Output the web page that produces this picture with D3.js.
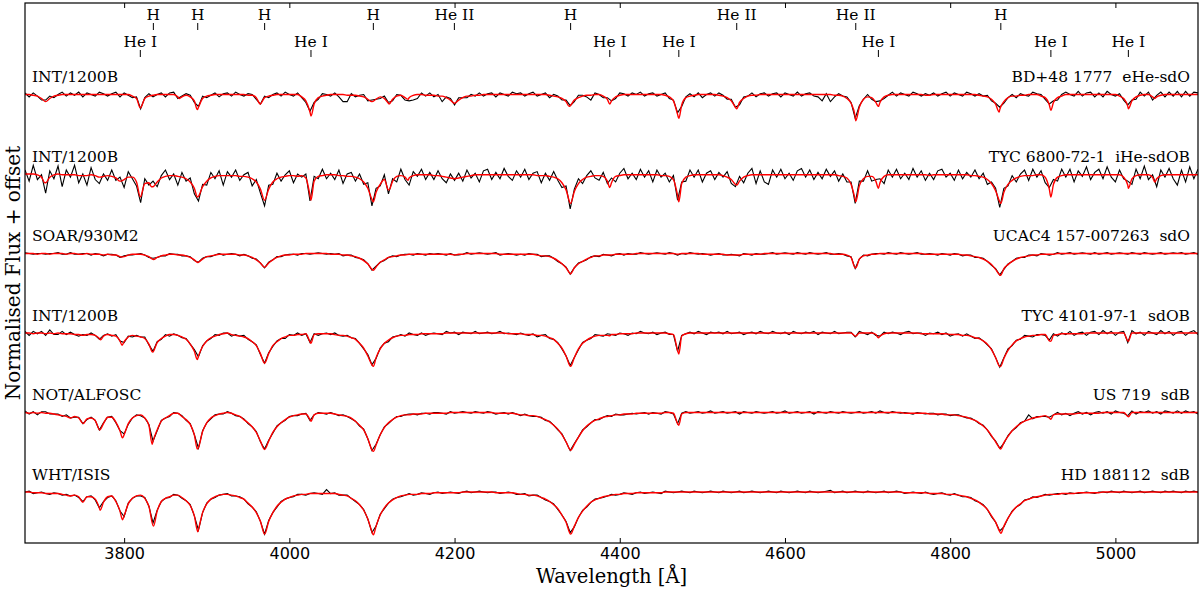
<!DOCTYPE html>
<html>
<head>
<meta charset="utf-8">
<title>Normalised spectra</title>
<script src="https://cdn.jsdelivr.net/npm/d3@7"></script>
<style>
  body { margin: 0; background: #fff; }
  .serif { font-family: "DejaVu Serif", serif; fill: #000; }
  .axis text { font-family: "DejaVu Sans", sans-serif; font-size: 16px; fill: #000; }
  .axis line { stroke: #000; stroke-width: 1; }
</style>
</head>
<body>
<div id="chart-area"></div>
<script>
// wavelength grid shared by every spectrum (Angstrom), 20 values = 100 A per row
var waveStart = 3680, waveStep = 5;
var waveRange = [3680, 5100];
var xTicks = [3800, 4000, 4200, 4400, 4600, 4800, 5000];

var instruments = ['INT/1200B', 'INT/1200B', 'SOAR/930M2', 'INT/1200B', 'NOT/ALFOSC', 'WHT/ISIS'];
var starNames = ['BD+48 1777  eHe-sdO', 'TYC 6800-72-1  iHe-sdOB', 'UCAC4 157-007263  sdO',
                 'TYC 4101-97-1  sdOB', 'US 719  sdB', 'HD 188112  sdB'];
var offsets = [5, 4, 3, 2, 1, 0];

// line identifications [label, wavelength]
var idTop = [['H', 3835.4], ['H', 3889.1], ['H', 3970.1], ['H', 4101.7], ['He II', 4199.8],
             ['H', 4340.5], ['He II', 4541.6], ['He II', 4685.7], ['H', 4861.3]];
var idBottom = [['He I', 3819.6], ['He I', 4026.2], ['He I', 4387.9], ['He I', 4471.5],
                ['He I', 4713.1], ['He I', 4921.9], ['He I', 5015.7]];

// model flux on the grid (percent of continuum), residuals of the data, exact line cores
var fluxBD48 = [
100,100,99,98,95,91,95,98,99,100,100,100,100,100,100,100,100,100,100,100,
100,100,100,100,100,100,98,95,84,95,98,99,100,100,100,100,100,97,97,99,
97,92,84,95,98,99,100,100,100,100,100,100,100,100,99,99,96,88,96,98,
99,100,100,100,100,100,100,97,92,78,88,96,98,99,100,100,100,100,99,99,
99,98,97,94,91,94,97,95,89,94,98,99,96,96,99,100,100,99,99,99,
98,98,96,93,89,93,96,98,98,99,99,100,100,100,100,100,100,100,100,100,
100,100,100,100,100,100,100,99,98,97,95,91,86,93,96,98,99,99,100,100,
98,94,92,97,99,100,100,100,100,100,100,100,100,100,100,99,97,92,75,87,
96,98,99,100,100,100,100,100,99,98,96,92,84,90,95,98,99,99,100,100,
100,100,100,100,100,100,100,100,100,100,100,100,100,100,100,100,99,99,98,95,
89,72,84,94,97,96,90,90,97,99,100,100,100,100,100,100,100,100,99,99,
100,100,100,100,100,100,100,100,100,100,100,99,98,97,94,88,81,91,96,98,
98,99,99,100,100,100,98,96,87,90,96,98,100,100,100,100,100,100,100,100,
100,100,100,100,100,98,95,85,92,97,99,100,100,97,97,99,100,100,100,100,
100,100,100,100,100];
var residBD48 = [
2,-3,3,0,-2,2,3,-2,1,3,-2,2,-1,3,-3,2,0,-2,3,1,
-2,1,3,-3,2,-1,-2,2,-2,1,3,-2,0,2,-3,2,3,-2,1,2,
2,-2,1,3,-2,0,2,-3,1,2,-2,3,0,-2,2,1,-2,0,2,-2,
1,2,-2,3,0,-2,2,-1,-2,1,2,-2,3,1,-2,2,-3,-9,-8,2,
-2,1,3,-2,2,0,-2,3,1,-2,2,0,-3,-4,-6,-5,2,-1,3,-2,
2,-7,1,2,-2,3,0,-2,2,-1,3,-2,1,2,-3,2,0,-2,3,1,
2,-2,1,3,-2,0,2,-3,2,1,-2,2,0,-2,3,1,-2,-6,2,0,
-2,2,0,-2,3,1,-2,2,0,3,-2,1,2,-2,0,3,-2,1,2,-2,
1,3,-2,2,-4,0,2,-2,3,1,-2,2,0,-3,2,0,3,-2,1,2,
-2,1,2,-3,2,0,-2,3,-2,1,2,-2,-3,-8,1,-9,-2,2,0,2,
1,-2,2,0,3,-2,1,2,-2,0,3,-2,2,0,-2,3,1,-2,2,0,
2,-2,1,3,-2,2,0,-2,3,1,-2,2,0,2,-2,1,3,-2,0,2,
-2,2,0,-2,3,1,2,-2,1,2,-3,2,3,0,-2,4,-2,2,3,-3,
2,-3,4,0,-2,3,-2,2,1,-3,4,-2,3,-4,2,4,-3,3,-2,4,
-3,4,-2,3,2];
var coresBD48 = [[3705, 91], [3819.6, 83], [3867, 95], [3888.6, 81], [3964.7, 88], [4026.2, 73],
  [4100, 91], [4120.8, 88], [4143.8, 94], [4199.8, 89], [4338.7, 85], [4387.9, 88], [4471.5, 70],
  [4541.6, 82], [4685.7, 67], [4713.1, 85], [4859.3, 78], [4921.9, 80], [5015.7, 82], [5047.7, 95]];

var fluxTYC6800 = [
100,100,100,99,96,89,96,99,100,99,99,99,99,98,98,98,99,98,96,97,
98,97,95,91,93,96,96,90,72,88,89,84,90,95,97,98,98,97,96,94,
90,82,72,84,91,95,97,98,98,98,98,98,97,97,96,94,90,81,67,81,
90,94,96,97,98,98,97,98,95,73,91,97,98,99,99,99,98,98,97,97,
96,94,90,82,68,77,87,93,80,91,97,98,96,95,98,99,99,99,99,98,
98,97,96,95,94,95,96,97,98,99,99,99,99,99,99,99,99,99,99,99,
99,99,99,99,98,98,98,97,96,94,89,80,64,78,88,93,96,97,98,98,
97,91,89,97,98,99,99,99,99,99,99,99,99,99,98,98,97,93,73,88,
96,98,99,99,99,99,99,99,99,98,96,93,87,91,96,98,99,99,99,99,
99,99,99,99,99,99,99,99,99,99,99,99,99,99,99,99,99,98,97,95,
87,68,85,94,97,97,91,89,97,99,99,99,99,99,99,99,99,99,99,98,
99,99,99,99,99,99,99,99,99,98,98,97,96,93,88,79,65,77,87,92,
95,97,98,98,98,99,99,96,81,87,96,98,99,99,99,99,99,99,99,99,
99,99,99,99,99,99,96,86,94,98,99,99,99,96,94,98,99,99,99,99,
99,99,99,99,99];
var residTYC6800 = [
5,-9,11,-6,3,-13,8,-5,10,-15,6,-3,12,-9,2,-12,9,-5,-8,3,
-6,8,-3,5,-10,7,-2,-5,-8,6,-3,7,-6,3,8,-5,2,-11,6,-3,
5,-7,-6,3,-5,7,-3,6,-12,5,-2,7,-5,2,6,-9,3,-5,-7,5,
-3,7,-5,2,6,-9,3,-2,5,-7,6,-3,8,-5,2,-6,7,-10,3,5,
-5,6,-3,7,-8,5,-2,6,-5,3,-7,8,-3,-9,5,-2,7,-6,3,-5,
6,-3,-7,5,-2,6,-5,8,-3,2,-9,5,7,-6,3,-5,8,-2,-7,5,
-3,7,-6,2,5,-9,3,-5,7,-2,-6,5,-8,3,6,-5,2,7,-3,-6,
5,-3,6,-7,3,8,-5,2,-6,7,-3,5,-9,6,-2,3,-7,5,-6,2,
-5,7,-3,6,-9,2,5,-6,3,-2,7,-5,-3,6,-7,3,8,-11,5,-9,
-12,6,-3,7,-5,2,-7,5,8,-3,6,-6,3,-5,7,-2,5,-7,3,-5,
3,-5,6,-3,7,-6,2,5,-9,6,-3,7,-5,2,-6,8,-3,5,-7,3,
-6,5,7,-3,2,-7,6,-5,3,-2,7,-3,5,-6,2,3,-7,5,-2,6,
-5,3,7,-6,8,-3,5,-7,2,6,-5,8,-3,7,-9,5,-2,10,-6,3,
7,-5,10,-3,-9,6,-2,5,-7,8,-5,11,-6,3,-10,7,-3,8,-5,-13,
6,-9,10,-5,7];
var coresTYC6800 = [[3704, 89], [3771, 96], [3796, 91], [3819.6, 71], [3833, 84], [3888.7, 71],
  [3970, 67], [4026.2, 67], [4101.7, 65], [4120.8, 80], [4143.8, 92], [4199.8, 94], [4340.5, 63],
  [4387.9, 83], [4471.5, 65], [4541.6, 86], [4685.7, 65], [4713.1, 82], [4861.3, 63], [4921.9, 71],
  [5015.7, 82], [5047.7, 90]];

var fluxUCAC4 = [
100,100,100,99,100,100,99,100,100,100,99,100,100,99,99,100,99,99,99,98,
99,98,98,96,96,98,99,99,99,98,96,93,95,97,98,99,99,98,98,97,
95,92,89,93,96,97,98,99,99,99,99,99,98,98,97,95,92,88,83,88,
92,95,97,98,98,99,99,99,100,100,100,100,100,100,99,99,99,98,98,97,
96,94,91,87,80,83,89,92,95,96,97,98,98,99,99,99,99,99,99,99,
99,99,99,99,98,99,99,100,100,100,100,100,100,100,100,99,99,99,99,99,
99,99,99,99,98,97,97,96,94,91,87,82,75,82,87,90,93,95,97,97,
98,98,98,99,99,99,99,99,100,100,100,100,100,100,100,100,100,100,99,100,
100,100,100,100,99,99,99,99,99,99,98,98,98,98,99,99,99,99,99,100,
100,100,100,100,100,100,100,100,100,100,100,100,100,100,100,100,99,99,99,98,
95,82,93,97,98,99,99,100,100,100,100,100,100,100,100,100,100,100,99,99,
99,99,99,99,99,99,99,98,98,97,96,95,93,90,86,80,73,81,86,90,
93,95,96,97,98,98,99,99,99,99,100,100,100,100,100,100,100,100,100,100,
100,100,100,100,100,100,100,100,100,100,100,100,100,100,100,100,100,100,100,100,
100,100,100,100,100];
var residUCAC4 = [
1,0,-1,1,0,-1,1,0,1,-1,0,1,-1,0,1,0,-1,1,0,-1,
0,1,0,-1,1,0,-1,0,1,0,-1,1,0,0,-1,1,0,1,-1,0,
1,-1,0,1,0,-1,0,1,-1,0,1,0,-1,1,0,-1,1,0,-1,1,
0,1,-1,0,1,0,-1,1,0,-1,0,1,0,-1,1,0,1,-1,0,1,
-1,0,1,0,-1,1,0,-1,0,1,-1,0,1,0,-1,1,0,-1,1,0,
1,0,-1,1,0,-1,0,1,-1,0,1,0,-1,0,1,-1,0,1,0,-1,
0,-1,1,0,1,-1,0,1,0,-1,0,1,-1,0,1,0,-1,1,0,-1,
1,0,-1,0,1,-1,1,0,-1,1,0,-1,0,1,0,-1,1,0,-1,0,
-1,1,0,-1,1,0,-1,0,1,-1,0,1,0,-1,1,0,-1,1,0,-1,
0,1,-1,0,1,0,-1,1,0,-1,1,0,-1,0,1,-1,0,1,0,-1,
1,-1,0,1,-1,0,1,0,-1,1,0,-1,1,0,-1,0,1,-1,0,1,
0,-1,1,0,-1,1,0,-1,0,1,-1,0,1,0,-1,1,0,-1,1,0,
1,0,-1,1,0,-1,1,0,-1,0,1,-1,0,1,-1,0,1,0,-1,1,
-1,0,1,-1,0,1,0,-1,1,0,-1,1,0,-1,0,1,-1,0,1,0,
1,-1,0,1,-1];
var coresUCAC4 = [[3797, 95.5], [3835.5, 92.5], [3889, 88.5], [3970, 82.5], [4101.5, 79],
  [4340.5, 74.5], [4685.7, 82], [4861, 72.5]];

var fluxTYC4101 = [
100,100,99,100,100,99,100,99,100,99,99,99,98,98,97,98,98,97,93,96,
98,97,96,90,89,95,97,96,95,93,86,77,88,93,96,98,98,97,95,92,
86,77,71,83,90,94,96,98,99,100,98,97,96,95,93,89,84,74,62,74,
84,89,93,95,97,97,98,98,99,89,98,99,99,99,99,98,97,97,96,94,
92,87,81,71,60,69,80,87,91,94,96,97,97,98,98,98,99,99,99,99,
99,99,100,100,100,100,100,100,100,100,100,100,100,100,100,100,100,99,99,99,
99,98,98,98,97,97,96,94,92,87,81,71,58,69,80,87,91,94,96,97,
97,97,98,98,99,99,99,99,100,100,100,100,100,100,100,100,99,98,78,96,
99,100,100,100,100,100,100,100,100,100,100,100,100,100,100,100,100,100,100,100,
100,100,100,100,100,100,100,100,100,100,100,100,100,100,100,100,100,100,100,100,
100,96,100,100,100,100,98,96,99,100,100,100,100,100,100,100,100,99,99,99,
99,99,99,99,98,98,98,97,97,96,94,93,90,86,79,69,58,68,78,85,
90,93,95,96,97,97,98,98,90,97,98,99,99,99,99,99,99,100,100,100,
100,100,100,100,100,100,100,90,100,100,100,100,100,100,100,100,100,100,100,100,
100,100,100,100,100];
var residTYC4101 = [
2,-3,3,-1,2,-2,4,-1,-2,3,-1,2,0,-2,1,-1,2,0,-1,1,
1,-1,2,0,-1,1,-2,1,0,2,-1,0,1,-1,2,-2,1,0,-1,1,
0,2,-1,1,0,-1,2,-1,1,0,-2,1,0,2,-1,0,1,-1,0,1,
-1,1,0,-2,1,0,2,-1,0,-1,1,-2,0,1,-1,2,0,-1,1,0,
1,0,-1,2,0,-1,1,0,-2,1,0,1,-1,2,0,-1,1,-2,0,1,
0,-1,2,0,1,-2,1,0,-1,2,-1,0,1,-1,0,2,-1,1,0,-1,
1,0,-1,1,-2,0,2,-1,0,1,-1,0,1,0,-1,1,0,-1,2,0,
-1,2,0,-1,1,0,-2,1,-1,2,0,-1,1,-2,0,1,-1,0,-1,1,
0,1,-1,2,0,-2,1,0,1,-1,2,-1,0,1,-2,0,1,-1,2,0,
-1,2,0,-1,1,-2,2,0,-1,1,0,2,-2,1,0,-1,2,-1,0,1,
1,-1,2,0,-2,1,-1,0,2,-1,1,0,-2,1,2,-1,0,1,-2,1,
0,2,-1,1,-2,0,1,-1,2,0,-1,1,0,-1,1,0,-1,1,2,-1,
1,-1,2,0,-2,1,0,-1,1,2,-2,1,-1,3,-2,1,2,-3,1,2,
-2,3,-1,2,-3,1,2,-2,3,-1,1,-3,2,0,-2,3,-1,2,-3,1,
2,-3,1,3,-2];
var coresTYC4101 = [[3771.5, 91.5], [3797.5, 84.5], [3834.5, 76], [3888.6, 66.5], [3970, 62],
  [4026.2, 87], [4101.7, 58], [4340.5, 58], [4387.9, 96.5], [4471.5, 73.5], [4685.7, 96],
  [4713.1, 94], [4861, 58], [4921.9, 89.5], [5015.7, 89.5]];

var fluxUS719 = [
100,99,100,99,100,99,99,98,97,96,95,93,95,93,86,92,93,90,79,86,
94,94,88,77,72,86,93,96,97,93,84,64,78,89,93,96,99,99,95,91,
85,72,56,76,87,93,96,98,99,100,99,97,95,91,87,82,75,64,54,64,
75,82,87,91,94,96,97,98,98,91,97,99,99,99,99,98,97,96,95,93,
89,84,78,67,53,59,72,81,87,91,94,96,97,97,98,98,98,99,99,99,
99,99,99,100,100,100,100,100,100,100,100,100,100,100,99,99,99,99,99,98,
97,97,96,96,95,93,91,88,84,79,72,63,53,60,69,77,83,87,90,92,
94,95,96,97,97,98,98,98,99,99,99,99,99,99,99,100,100,99,86,98,
100,100,100,100,100,100,100,100,100,100,100,100,100,100,100,100,100,100,100,100,
100,100,100,100,100,100,100,100,100,100,100,100,100,100,100,100,100,100,100,100,
100,100,100,100,100,100,100,100,100,100,100,100,100,99,99,99,99,99,99,98,
98,98,98,97,97,97,96,95,94,92,90,87,83,78,71,63,55,62,70,77,
82,86,89,91,93,94,95,96,93,97,98,98,98,98,98,99,99,99,99,99,
99,100,100,100,100,100,100,95,100,100,100,100,100,100,100,100,100,100,100,100,
100,100,100,100,100];
var residUS719 = [
2,-1,1,-2,1,2,-1,0,1,-1,2,0,-1,1,0,-1,1,0,-1,1,
0,1,-1,0,1,-1,0,1,-1,0,1,0,-1,1,0,-1,1,0,1,-1,
1,0,-1,1,0,-1,1,0,-1,1,0,-1,0,1,-1,0,1,-1,0,1,
-1,1,0,-1,1,0,-1,0,1,-1,0,1,0,-1,1,0,-1,1,0,-1,
0,-1,1,0,-1,1,0,1,-1,0,1,-1,0,1,0,-1,1,0,-1,1,
1,0,-1,1,-1,0,1,0,-1,1,0,-1,1,0,-1,0,1,-1,1,0,
-1,1,0,-1,0,1,-1,1,0,-1,1,0,-1,1,0,1,-1,0,1,-1,
0,1,-1,1,0,-1,0,1,-1,0,1,-1,1,0,-1,1,0,-1,0,1,
1,-1,0,1,-1,0,2,-1,0,1,-1,0,1,-2,1,0,-1,1,0,-1,
0,1,-1,0,2,-1,0,1,-1,0,1,-2,1,0,-1,1,0,-1,1,0,
-1,0,1,-1,0,1,-1,2,0,-1,1,0,-1,1,0,-1,1,0,-1,1,
1,-1,0,1,-1,0,1,0,-1,1,0,-1,1,0,-1,1,0,-1,1,0,
-1,1,0,6,-1,1,0,-1,1,0,2,-1,1,-2,1,2,-1,1,-2,1,
2,-1,1,-2,2,0,-1,1,2,-2,1,0,2,-1,1,-2,2,1,-1,2,
-1,2,0,1,-2];
var coresUS719 = [[3750.5, 86], [3770.5, 78], [3798, 68], [3834, 60], [3888.6, 54], [3970, 53.5],
  [4026.2, 89], [4101.7, 51], [4340.5, 52.5], [4471.5, 84], [4861, 54], [4921.9, 91.5], [5015.7, 94.5]];

var fluxHD188112 = [
100,100,99,99,99,98,98,98,98,97,96,95,96,94,87,94,94,91,80,87,
94,95,88,76,70,85,92,95,96,92,82,62,76,88,92,94,96,96,93,89,
83,70,53,74,85,91,94,96,97,97,96,95,93,91,86,81,74,63,48,63,
74,82,87,91,93,95,96,97,97,98,98,98,98,98,98,98,97,96,95,92,
89,84,77,66,50,57,71,80,86,90,93,95,96,97,97,97,98,98,98,99,
99,99,99,99,99,99,100,100,100,100,100,100,100,100,99,99,99,99,99,98,
97,97,96,96,95,93,91,88,84,79,71,62,49,57,68,76,82,87,90,92,
94,95,96,97,97,98,98,98,99,99,99,99,99,99,99,100,100,100,100,100,
100,100,100,100,100,100,100,100,100,100,100,100,100,100,100,100,100,100,100,100,
100,100,100,100,100,100,100,100,100,100,100,100,100,100,100,100,100,100,100,100,
100,100,100,100,100,100,100,100,100,100,100,100,100,99,99,99,99,99,99,98,
98,98,98,97,97,97,96,95,94,92,90,87,83,78,70,62,50,57,67,75,
81,85,89,91,93,94,95,96,97,97,97,98,98,98,98,99,99,99,99,99,
99,100,100,100,100,100,100,100,100,100,100,100,100,100,100,100,100,100,100,100,
100,100,100,100,100];
var residHD188112 = [
0,1,-1,0,1,0,-1,1,0,-1,1,0,0,-1,1,0,1,-1,0,1,
-1,0,1,0,-1,1,0,0,-1,1,0,-1,1,0,0,-1,1,0,-1,0,
1,0,-1,0,1,0,-1,0,0,1,-1,0,1,0,-1,0,1,0,-1,1,
0,-1,1,0,0,-1,1,0,-1,0,1,0,-1,5,0,1,-1,0,1,0,
-1,0,1,0,-1,0,1,-1,0,1,0,-1,0,1,-1,0,1,0,-1,0,
1,-1,0,1,0,-1,0,1,-1,0,1,0,-1,0,1,-1,0,1,0,-1,
0,1,-1,0,1,0,-1,0,1,-1,0,1,0,-1,0,1,-1,0,1,0,
-1,0,1,-1,0,1,0,-1,0,1,-1,0,1,0,-1,1,0,-1,0,1,
0,-1,1,0,-1,0,1,0,-1,1,0,-1,0,1,-1,0,1,0,-1,0,
1,0,-1,1,0,-1,0,1,0,-1,1,0,-1,0,1,2,-1,0,1,-1,
0,1,0,-1,1,0,-1,0,1,-1,0,1,0,-1,0,1,0,-1,1,0,
-1,0,1,0,-1,1,0,-1,0,1,-1,0,1,0,-1,0,1,-1,0,1,
0,-1,1,0,1,-1,0,1,-1,0,1,0,-1,1,0,-1,0,1,0,-1,
1,0,-1,1,0,-1,1,0,-1,0,1,-1,0,1,0,-1,1,0,1,0,
-1,1,0,1,0];
var coresHD188112 = [[3734, 95], [3750, 87], [3771, 77], [3798, 65], [3835.5, 57], [3889.2, 50],
  [3970.1, 47], [4101.7, 46], [4340.5, 47], [4861.3, 48]];

var fluxes = [fluxBD48, fluxTYC6800, fluxUCAC4, fluxTYC4101, fluxUS719, fluxHD188112];
var resids = [residBD48, residTYC6800, residUCAC4, residTYC4101, residUS719, residHD188112];
var cores = [coresBD48, coresTYC6800, coresUCAC4, coresTYC4101, coresUS719, coresHD188112];

var def = {
    width: 1200,
    height: 592,
    margin: {top: 3, right: 2, bottom: 49, left: 25}
};
var iw = def.width - def.margin.left - def.margin.right;
var ih = def.height - def.margin.top - def.margin.bottom;

var svg = d3.select('#chart-area').append('svg')
    .attr('width', def.width)
    .attr('height', def.height);
svg.append('rect').attr('width', def.width).attr('height', def.height).attr('fill', '#fff');

var g = svg.append('g')
    .attr('transform', 'translate(' + def.margin.left + ',' + def.margin.top + ')');

var x = d3.scaleLinear().domain(waveRange).range([0, iw]);
// flux in percent, each spectrum shifted by 100 per step of offset
var y = d3.scaleLinear().domain([35.8, 715.1]).range([ih, 0]);

g.append('clipPath').attr('id', 'plot-clip')
    .append('rect').attr('width', iw).attr('height', ih);

var lineData = d3.line().x(d => x(d[0])).y(d => y(d[1]));
var lineModel = d3.line().x(d => x(d[0])).y(d => y(d[1])).curve(d3.curveMonotoneX);

var plot = g.append('g').attr('clip-path', 'url(#plot-clip)');

fluxes.forEach((flux, k) => {
    var shift = offsets[k] * 100;
    var obs = flux.map((f, i) => [waveStart + i * waveStep, f + (resids[k][i] || 0) + shift]);
    // model = grid points plus the exact line cores
    var mod = flux.map((f, i) => [waveStart + i * waveStep, f])
        .filter(p => !cores[k].some(c => Math.abs(c[0] - p[0]) < 0.6))
        .concat(cores[k])
        .sort((a, b) => a[0] - b[0])
        .map(p => [p[0], p[1] + shift]);

    plot.append('path')
        .attr('d', lineData(obs))
        .attr('fill', 'none')
        .attr('stroke', '#000')
        .attr('stroke-width', 1.1);
    plot.append('path')
        .attr('d', lineModel(mod))
        .attr('fill', 'none')
        .attr('stroke', '#f00')
        .attr('stroke-width', 1.4);

    var base = y(100 + shift) - 12;
    g.append('text').attr('class', 'serif')
        .attr('x', 7).attr('y', base)
        .attr('font-size', '15.5px')
        .text(instruments[k]);
    g.append('text').attr('class', 'serif')
        .attr('x', iw - 8).attr('y', base)
        .attr('font-size', '15.5px')
        .attr('text-anchor', 'end')
        .style('white-space', 'pre')
        .text(starNames[k]);
});

// line identifications
function idRow(list, textY, tickY) {
    list.forEach(d => {
        var px = x(d[1]);
        g.append('text').attr('class', 'serif')
            .attr('x', px).attr('y', textY)
            .attr('font-size', '15.5px')
            .attr('text-anchor', 'middle')
            .text(d[0]);
        g.append('line')
            .attr('x1', px).attr('x2', px)
            .attr('y1', tickY).attr('y2', tickY + 7)
            .attr('stroke', '#000').attr('stroke-width', 1);
    });
}
idRow(idTop, 17, 20);
idRow(idBottom, 43.5, 47);

// axes, ticks inside
var xAxis = d3.axisBottom(x).tickValues(xTicks).tickFormat(d3.format('d'))
    .tickSizeInner(-5).tickSizeOuter(0).tickPadding(5);
var xAxisTop = d3.axisTop(x).tickValues(xTicks).tickSizeInner(-5).tickSizeOuter(0).tickFormat('');
var xLeg = g.append('g').attr('class', 'axis').attr('transform', 'translate(0,' + ih + ')').call(xAxis);
var xTop = g.append('g').attr('class', 'axis').call(xAxisTop);
xLeg.select('.domain').remove();
xTop.select('.domain').remove();

g.append('rect')
    .attr('width', iw).attr('height', ih)
    .attr('fill', 'none')
    .attr('stroke', '#000')
    .attr('stroke-width', 1.2);

g.append('text').attr('class', 'serif')
    .attr('x', iw / 2).attr('y', ih + 40)
    .attr('font-size', '19.5px')
    .attr('text-anchor', 'middle')
    .text('Wavelength [\u00c5]');

svg.append('text').attr('class', 'serif')
    .attr('transform', 'translate(20,' + (def.margin.top + ih / 2) + ') rotate(-90)')
    .attr('font-size', '20px')
    .attr('text-anchor', 'middle')
    .text('Normalised Flux + offset');
</script>
</body>
</html>
